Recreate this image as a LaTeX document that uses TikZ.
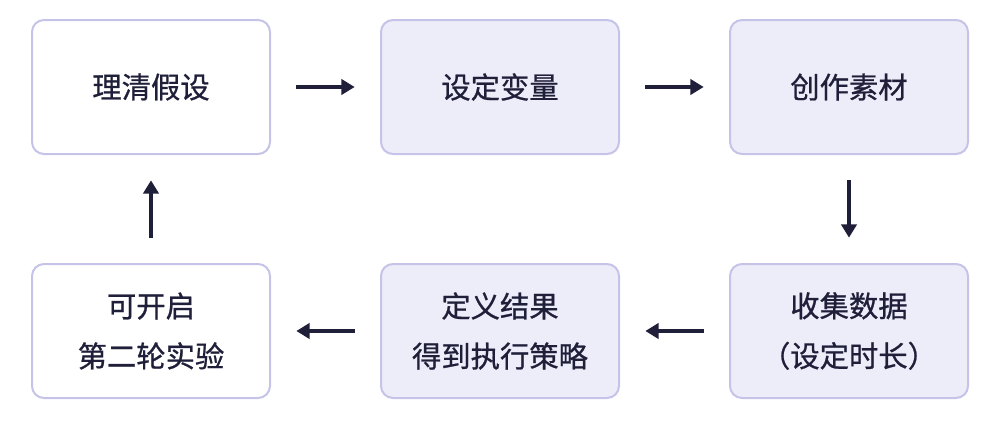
\documentclass[tikz,border=0pt]{standalone}
\usepackage{fontspec}
\newfontfamily\cjk{Noto Sans CJK SC}[FakeBold=0.8]
\usetikzlibrary{arrows.meta}
\definecolor{boxline}{HTML}{C5C3E8}
\definecolor{boxfill}{HTML}{EDEDF9}
\definecolor{ink}{HTML}{1F1F3A}

\begin{document}
\begin{tikzpicture}[x=0.75pt, y=-0.75pt, >={Triangle[length=10pt,width=11.5pt]},
	every node/.style={font=\cjk\fontsize{22}{37.5}\selectfont, text=ink, align=center},
	stepbox/.style={draw=boxline, line width=1.5pt, rounded corners=9pt, fill=boxfill,
		minimum width=178.5pt, minimum height=100.5pt},
	flow/.style={->, draw=ink, line width=2.4pt, shorten <=19pt, shorten >=19pt}]
	\useasboundingbox (0,0) rectangle (1000,421);
	
	% --- 上排 ---
	\node[stepbox, fill=white] (hypo) at (151,87) {理清假设};
	\node[stepbox] (vars) at (500,87) {设定变量};
	\node[stepbox] (mat) at (849,87) {创作素材};
	
	% --- 下排 ---
	\node[stepbox] (data) at (849,331) {收集数据\\（设定时长）};
	\node[stepbox] (result) at (500,331) {定义结果\\得到执行策略};
	\node[stepbox, fill=white] (next) at (151,331) {可开启\\第二轮实验};
	
	% --- 流程箭头 ---
	\draw[flow] (hypo) -- (vars);
	\draw[flow] (vars) -- (mat);
	\draw[flow] (mat) -- (data);
	\draw[flow] (data) -- (result);
	\draw[flow] (result) -- (next);
	\draw[flow] (next) -- (hypo);
\end{tikzpicture}
\end{document}
